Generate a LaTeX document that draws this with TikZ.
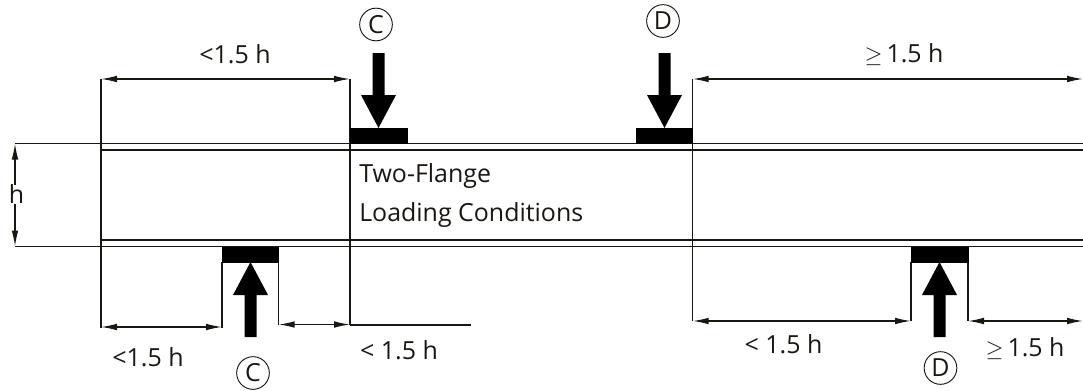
\documentclass[tikz,border=0pt]{standalone}
\usepackage{fontspec}
\setmainfont{Open Sans}
\usetikzlibrary{arrows.meta, positioning, calc}
\definecolor{CInk}{HTML}{1A1712}
\tikzset{
  line/.style={CInk, line width=1pt},
  thinline/.style={CInk, line width=0.8pt},
  dimline/.style={CInk, line width=1pt, {Latex[length=12pt, width=5pt]}-{Latex[length=12pt, width=5pt]}},
  plate/.style={fill=black, draw=none},
  label/.style={font=\fontsize{18.7}{22}\selectfont, inner sep=0pt, anchor=base, text=CInk},
  mark circle/.style={draw=CInk, line width=0.7pt, circle, minimum size=24.5pt, inner sep=0pt, text=CInk, font=\fontsize{18.7}{22}\selectfont},
}
\newcommand{\loadarrow}[3]{% x, tail y, tip y
  \fill[black] ({#1-6},#2) -- ({#1+6},#2) -- ({#1+6},{#3+(#2-#3)*0.44}) -- ({#1+17.5},{#3+(#2-#3)*0.44})
    -- (#1,#3) -- ({#1-17.5},{#3+(#2-#3)*0.44}) -- ({#1-6},{#3+(#2-#3)*0.44}) -- cycle;
}
\begin{document}
\begin{tikzpicture}[x=0.75pt, y=-0.75pt]
    \useasboundingbox (0,0) rectangle (1083,390);

    % Flanges
    \draw[line] (15,143.5) -- (1083,143.5);
    \draw[line] (101,150) -- (1083,150);
    \draw[line] (101,240) -- (1083,240);
    \draw[line] (15,246.5) -- (1083,246.5);

    % Extension lines
    \draw[thinline] (101,79) -- (101,328);
    \draw[thinline] (350,79) -- (350,325);
    \draw[thinline] (692.7,79) -- (692.7,321);
    \draw[thinline] (222,262) -- (222,328);
    \draw[thinline] (278.7,262) -- (278.7,325);
    \draw[thinline] (911,262) -- (911,321);
    \draw[thinline] (968,262) -- (968,321);
    \draw[thinline] (350,325) -- (471,325);

    % Bearing plates
    \fill[plate] (350,128) rectangle (407.5,144);
    \fill[plate] (636,128) rectangle (693,144);
    \fill[plate] (222,246.5) rectangle (279,262.5);
    \fill[plate] (911,246.5) rectangle (968.5,262.5);

    % Loads
    \loadarrow{378.5}{53}{128}
    \loadarrow{664.5}{53}{128}
    \loadarrow{250.5}{337}{262}
    \loadarrow{939.5}{337}{262}

    % Dimensions
    \coordinate (topA) at (101,79);
    \coordinate (topB) at (350,79);
    \coordinate (topC) at (692.7,79);
    \coordinate (topD) at (1083,79);
    \coordinate (lowA) at (101,327);
    \coordinate (lowB) at (222,327);
    \coordinate (lowC) at (278.7,324.5);
    \coordinate (lowD) at (350,324.5);
    \coordinate (lowE) at (692.7,321);
    \coordinate (lowF) at (911,321);
    \coordinate (lowG) at (968,321);
    \coordinate (lowH) at (1083,321);
    \coordinate (depthA) at (15,143.5);
    \coordinate (depthB) at (15,246.5);
    \draw[dimline] (topA) -- (topB);
    \draw[dimline] (topC) -- (topD);
    \draw[dimline] (lowA) -- (lowB);
    \draw[dimline] (lowC) -- (lowD);
    \draw[dimline] (lowE) -- (lowF);
    \draw[dimline] (lowG) -- (lowH);
    \draw[dimline] (depthA) -- (depthB);

    % Labels
    \node[label, fill=white] (depth) at (16.5,203.5) {h};
    \node[label] (topLeft) at (235,63.5) {<1.5 h};
    \node[label] (topRight) at (904,62.7) {$\geq$\,1.5 h};
    \node[label] (lowLeft) at (148,366) {<1.5 h};
    \node[label] (lowMid) at (399,359) {< 1.5 h};
    \node[label] (lowRight) at (783.5,353) {< 1.5 h};
    \node[label] (lowEnd) at (1025,356) {$\geq$\,1.5 h};
    \node[label, anchor=base west] (titleA) at (359,182.7) {Two-Flange};
    \node[label, anchor=base west] (titleB) at (359,221.7) {Loading Conditions};

    % Section marks
    \node[mark circle] (markCa) at (376,24.5) {C};
    \node[mark circle] (markCb) at (253,373) {C};
    \node[mark circle] (markDa) at (663,21) {D};
    \node[mark circle] (markDb) at (940.5,368) {D};
\end{tikzpicture}
\end{document}
